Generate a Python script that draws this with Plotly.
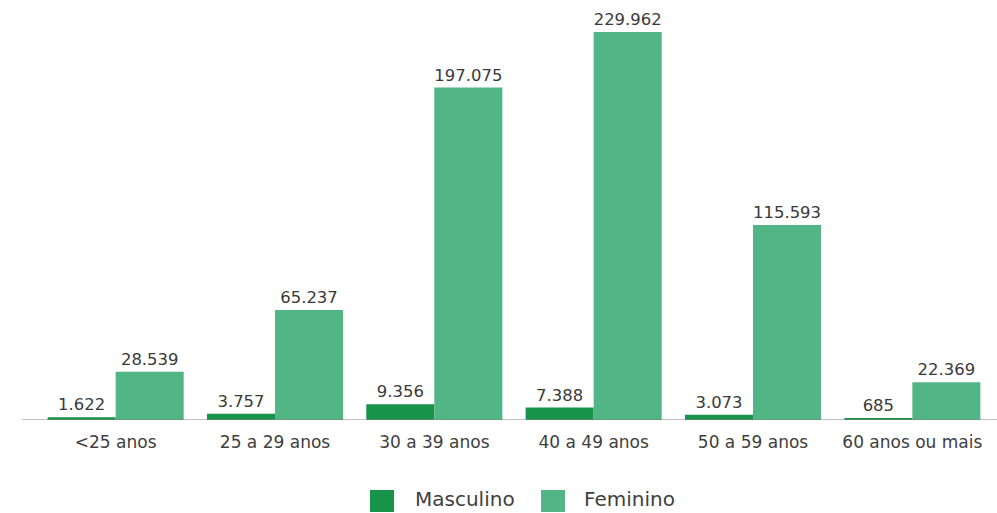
import plotly.graph_objects as go

categories = ["<25 anos", "25 a 29 anos", "30 a 39 anos", "40 a 49 anos", "50 a 59 anos", "60 anos ou mais"]
masculino = [1622, 3757, 9356, 7388, 3073, 685]
feminino = [28539, 65237, 197075, 229962, 115593, 22369]
series_names = ["Masculino", "Feminino"]
series_colors = ["#17934a", "#52b586"]

def fmt(v):
    return f"{v:,}".replace(",", ".")

fig = go.Figure()
for name, vals, col in zip(series_names, [masculino, feminino], series_colors):
    fig.add_trace(go.Bar(
        x=categories, y=vals, name=name,
        marker=dict(color=col, line=dict(width=0)),
        text=[fmt(v) for v in vals], textposition="outside",
        textfont=dict(size=17, color="#3a3a3a", family="DejaVu Sans"), cliponaxis=False,
        showlegend=False,
    ))

L, R, T, B = 36, 5, 7, 93
W, H = 997, 513
pw, ph = W - L - R, H - T - B

def px(x):
    return (x - L) / pw

def py(y):
    return (H - B - y) / ph

fig.update_layout(
    width=W, height=H,
    margin=dict(l=L, r=R, t=T, b=B, autoexpand=False),
    barmode="group", bargap=0.146, bargroupgap=0,
    plot_bgcolor="white", paper_bgcolor="white",
    font=dict(family="DejaVu Sans, sans-serif", size=17, color="#404040"),
    uniformtext=dict(minsize=10, mode="show"),
)
fig.update_xaxes(showline=False, ticks="outside", ticklen=7, tickcolor="rgba(0,0,0,0)",
                 tickfont=dict(size=17, color="#404040"))
fig.update_yaxes(range=[0, 244777], visible=False, showgrid=False)
fig.add_shape(type="line", xref="paper", yref="y", x0=px(22), x1=px(997), y0=0, y1=0,
              line=dict(color="#7f7f7f", width=1))

# legend drawn manually (larger swatches, as in the reference)
legend_pos = [(370, 413), (541, 582)]
for (sx, tx), name, col in zip(legend_pos, series_names, series_colors):
    fig.add_shape(type="rect", xref="paper", yref="paper",
                  x0=px(sx), x1=px(sx + 24), y0=py(512), y1=py(490),
                  fillcolor=col, line=dict(width=0))
    fig.add_annotation(xref="paper", yref="paper", x=px(tx), y=py(499),
                       xanchor="left", yanchor="middle", text=name, showarrow=False,
                       font=dict(size=20, color="#404040"))

fig.write_html("out.html")
